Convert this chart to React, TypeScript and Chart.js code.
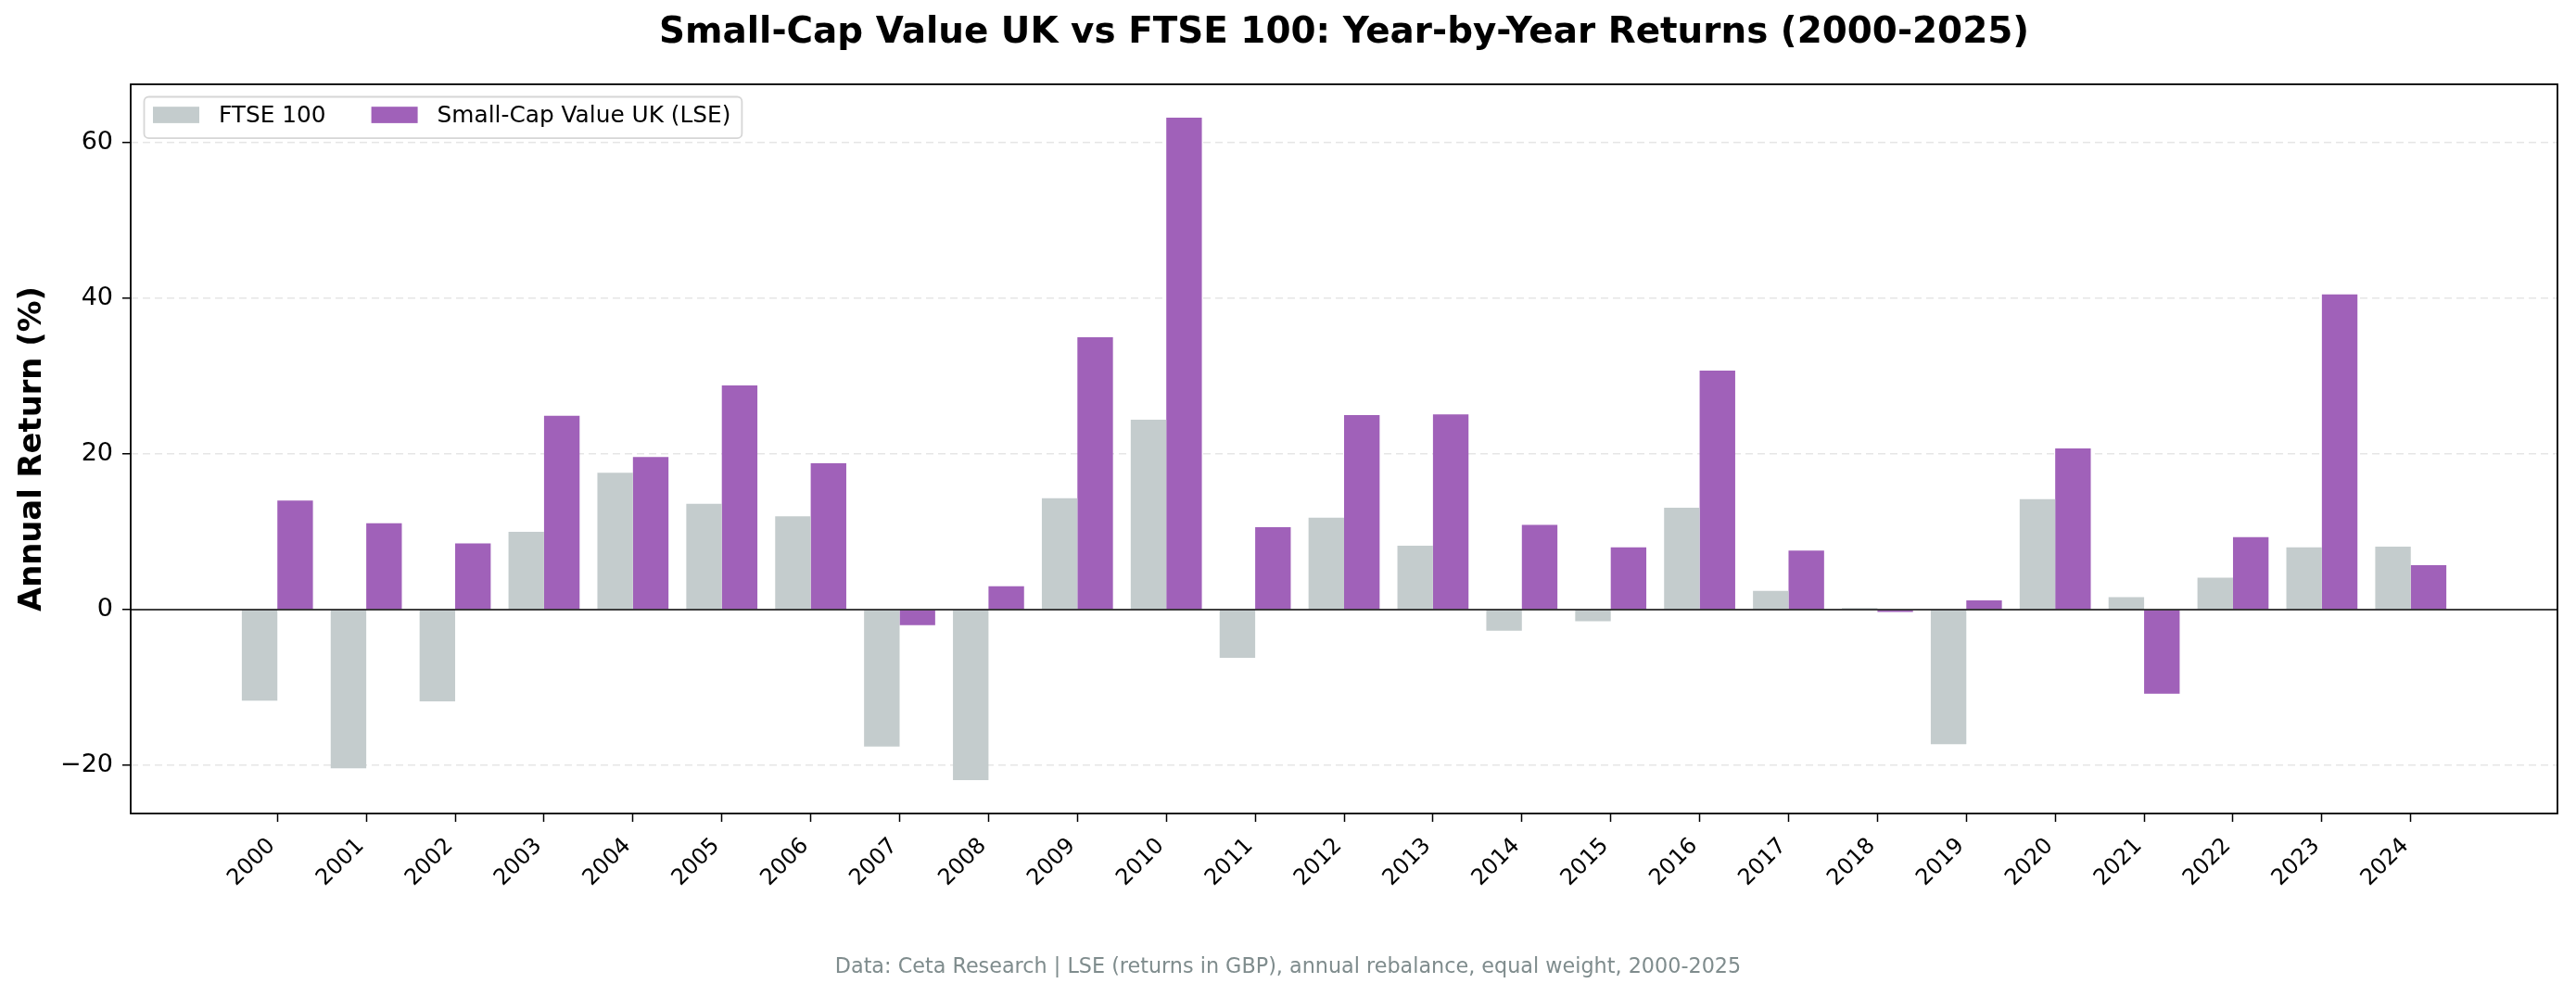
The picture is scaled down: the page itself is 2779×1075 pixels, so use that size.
import { useEffect, useRef } from 'react';
import Chart from 'chart.js/auto';

const YEARS = [
  2000, 2001, 2002, 2003, 2004, 2005, 2006, 2007, 2008, 2009, 2010, 2011, 2012,
  2013, 2014, 2015, 2016, 2017, 2018, 2019, 2020, 2021, 2022, 2023, 2024,
];
const FTSE_100 = [
  -11.7, -20.4, -11.8, 10.0, 17.6, 13.6, 12.0, -17.6, -21.9, 14.3, 24.4, -6.2, 11.8,
  8.2, -2.7, -1.5, 13.1, 2.4, 0.2, -17.3, 14.2, 1.6, 4.1, 8.0, 8.1,
];
const SMALL_CAP_VALUE = [
  14.0, 11.1, 8.5, 24.9, 19.6, 28.8, 18.8, -2.0, 3.0, 35.0, 63.2, 10.6, 25.0,
  25.1, 10.9, 8.0, 30.7, 7.6, -0.3, 1.2, 20.7, -10.8, 9.3, 40.5, 5.7,
];
const Y_TICKS = [-20, 0, 20, 40, 60];

const FONT = '"DejaVu Sans", sans-serif';

// zero line + full box frame around the plot area
const framePlugin = {
  id: 'frame',
  afterDatasetsDraw(chart: any) {
    const { ctx, chartArea, scales } = chart;
    const y0 = scales.y.getPixelForValue(0);
    ctx.save();
    ctx.strokeStyle = '#000';
    ctx.lineWidth = 1.4;
    ctx.beginPath();
    ctx.moveTo(chartArea.left, y0);
    ctx.lineTo(chartArea.right, y0);
    ctx.stroke();
    ctx.lineWidth = 1.8;
    ctx.strokeRect(chartArea.left, chartArea.top, chartArea.right - chartArea.left, chartArea.bottom - chartArea.top);
    ctx.restore();
  },
};

// matplotlib-like legend in the upper left corner of the plot
const insideLegend = {
  id: 'insideLegend',
  afterDraw(chart: any) {
    const { ctx, chartArea } = chart;
    const items = chart.data.datasets.map((ds: any) => ({ label: ds.label, color: ds.backgroundColor }));
    ctx.save();
    ctx.font = `24.8px ${FONT}`;
    const boxX = chartArea.left + 14.5;
    const boxY = chartArea.top + 13.5;
    const boxH = 44.7;
    let x = boxX + 9.5;
    const pos = items.map((it: any) => {
      const sx = x;
      const tx = sx + 71;
      x = tx + ctx.measureText(it.label).width + 49;
      return { sx, tx };
    });
    const boxW = x - 49 + 12 - boxX;
    ctx.beginPath();
    ctx.roundRect(boxX, boxY, boxW, boxH, 5);
    ctx.fillStyle = 'rgba(255,255,255,0.85)';
    ctx.fill();
    ctx.strokeStyle = '#d6d6d6';
    ctx.lineWidth = 1.8;
    ctx.stroke();
    ctx.textBaseline = 'middle';
    ctx.textAlign = 'left';
    items.forEach((it: any, i: number) => {
      ctx.fillStyle = it.color;
      ctx.fillRect(pos[i].sx, boxY + 10.7, 50, 17.7);
      ctx.fillStyle = '#000';
      ctx.fillText(it.label, pos[i].tx, boxY + 21);
    });
    ctx.restore();
  },
};

export default function App() {
  const chartRef = useRef<HTMLCanvasElement>(null);

  useEffect(() => {
    if (!chartRef.current) return;
    Chart.defaults.font.family = FONT;
    Chart.defaults.color = '#000';

    const chart = new Chart(chartRef.current, {
      type: 'bar',
      data: {
        datasets: [
          {
            label: 'FTSE 100',
            data: YEARS.map((yr, i) => ({ x: yr, y: FTSE_100[i] })),
            backgroundColor: '#c4cccd',
            borderWidth: 0,
          },
          {
            label: 'Small-Cap Value UK (LSE)',
            data: YEARS.map((yr, i) => ({ x: yr, y: SMALL_CAP_VALUE[i] })),
            backgroundColor: '#a061b9',
            borderWidth: 0,
          },
        ],
      },
      options: {
        responsive: true,
        maintainAspectRatio: false,
        devicePixelRatio: 1,
        animation: false,
        layout: { padding: 0 },
        datasets: {
          bar: { categoryPercentage: 0.8, barPercentage: 1.0 },
        },
        plugins: {
          legend: { display: false },
          tooltip: { enabled: false },
          title: {
            display: true,
            text: 'Small-Cap Value UK vs FTSE 100: Year-by-Year Returns (2000-2025)',
            fullSize: false,
            font: { size: 38.9, weight: 'bold', family: FONT },
            color: '#000',
            padding: { top: 12.7, bottom: 31.6 },
          },
          subtitle: {
            display: true,
            position: 'bottom',
            text: 'Data: Ceta Research | LSE (returns in GBP), annual rebalance, equal weight, 2000-2025',
            font: { size: 22.3, family: FONT },
            color: '#7f8c8d',
            padding: { top: 0, bottom: 17.6 },
          },
        },
        scales: {
          x: {
            type: 'linear',
            offset: false,
            min: YEARS[0] - 1.65,
            max: YEARS[YEARS.length - 1] + 1.65,
            afterBuildTicks: (axis: any) => {
              axis.ticks = YEARS.map((v) => ({ value: v }));
            },
            afterFit: (axis: any) => {
              axis.height = 152.6;
            },
            grid: {
              offset: false,
              drawOnChartArea: false,
              drawTicks: true,
              tickLength: 9,
              tickColor: '#000',
              tickWidth: 1.5,
            },
            border: { display: false },
            ticks: {
              autoSkip: false,
              minRotation: 45,
              maxRotation: 45,
              padding: 12,
              labelOffset: -6,
              font: { size: 24, family: FONT },
              color: '#000',
              callback: (v: any) => String(v),
            },
          },
          y: {
            type: 'linear',
            min: -26.2,
            max: 67.5,
            afterBuildTicks: (axis: any) => {
              axis.ticks = Y_TICKS.map((v) => ({ value: v }));
            },
            afterFit: (axis: any) => {
              axis.width = 141;
            },
            grid: {
              color: (c: any) => (c.tick && c.tick.value === 0 ? 'rgba(0,0,0,0)' : '#e6e6e6'),
              lineWidth: 1.5,
              drawTicks: true,
              tickLength: 9,
              tickColor: '#000',
              tickWidth: 1.5,
            },
            border: { display: false, dash: [8, 5] },
            ticks: {
              padding: 10,
              font: { size: 27, family: FONT },
              color: '#000',
              callback: (v: any) => (v < 0 ? '\u2212' + Math.abs(v) : String(v)),
            },
            title: {
              display: true,
              text: 'Annual Return (%)',
              font: { size: 33.8, weight: 'bold', family: FONT },
              color: '#000',
              padding: { top: 14.5, bottom: 0 },
            },
          },
          // empty right-hand axis, only keeps the right margin so the footnote stays centred on the page
          yRight: {
            type: 'linear',
            position: 'right',
            display: true,
            grid: { display: false, drawTicks: false },
            border: { display: false },
            ticks: { display: false },
            afterFit: (axis: any) => {
              axis.width = 20;
            },
          },
        },
      },
      plugins: [framePlugin, insideLegend],
    });

    return () => {
      chart.destroy();
    };
  }, []);

  return (
    <div style={{ position: 'absolute', left: 0, top: 0, width: 2779, height: 1075, background: '#fff' }}>
      <canvas ref={chartRef}></canvas>
    </div>
  );
}
